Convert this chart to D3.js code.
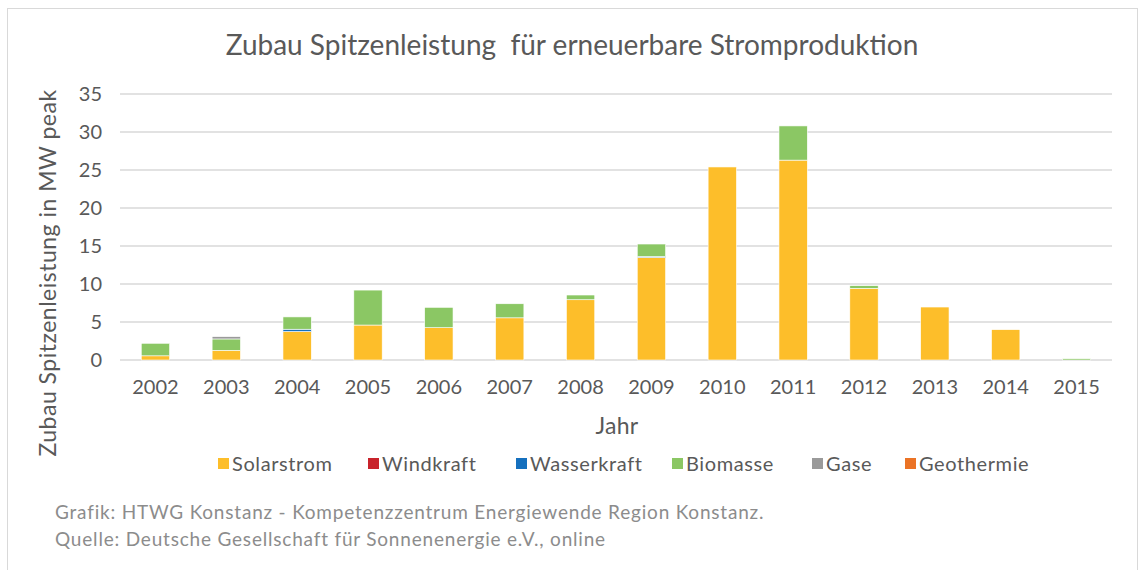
<!DOCTYPE html>
<html>
<head>
<meta charset="utf-8">
<script src="https://cdn.jsdelivr.net/npm/d3@7"></script>
<style>
  body { margin: 0; background: #fff; }
  text { font-family: Lato, "Open Sans", sans-serif; }
</style>
</head>
<body>
<svg id="chart" width="1139" height="570"></svg>
<script>
// data (MW peak)
const years = ['2002','2003','2004','2005','2006','2007','2008','2009','2010','2011','2012','2013','2014','2015'];
const seriesNames = ['Solarstrom','Windkraft','Wasserkraft','Biomasse','Gase','Geothermie'];
const seriesColors = ['#FDBE2A','#C8232B','#1570BE','#8BC764','#9A9A9A','#EB7325'];
const solar    = [0.55, 1.27, 3.75, 4.6, 4.25, 5.55, 7.93, 13.5, 25.4, 26.3, 9.43, 6.97, 3.99, 0];
const wind     = [0, 0, 0, 0, 0, 0, 0, 0, 0, 0, 0, 0, 0, 0];
const water    = [0, 0, 0.3, 0, 0, 0, 0, 0.12, 0, 0, 0, 0, 0, 0];
const biomass  = [1.65, 1.5, 1.62, 4.6, 2.68, 1.85, 0.62, 1.64, 0, 4.5, 0.35, 0, 0, 0.17];
const gas      = [0, 0.3, 0, 0, 0, 0, 0, 0, 0, 0, 0, 0, 0, 0];
const geo      = [0, 0, 0, 0, 0, 0, 0, 0, 0, 0, 0, 0, 0, 0];
const yTicks = [0, 5, 10, 15, 20, 25, 30, 35];

const seriesValues = [solar, wind, water, biomass, gas, geo];
const rows = years.map((y, i) => {
    const r = { year: y };
    seriesNames.forEach((n, k) => { r[n] = seriesValues[k][i]; });
    return r;
});

const svg = d3.select('#chart');
const plot = { left: 120, right: 1112, top: 94, bottom: 360 };
const font = 'Lato, "Open Sans", sans-serif';

// outer frame
svg.append('rect')
    .attr('x', 7.5).attr('y', 8.5)
    .attr('width', 1130).attr('height', 580)
    .attr('fill', 'none').attr('stroke', '#d9d9d9');

const x = d3.scaleBand().domain(years).range([plot.left, plot.right]).paddingInner(0.6).paddingOuter(0.3);
const y = d3.scaleLinear().domain([0, 35]).range([plot.bottom, plot.top]);

// gridlines
svg.append('g').selectAll('line')
    .data(yTicks)
    .enter().append('line')
    .attr('x1', plot.left).attr('x2', plot.right)
    .attr('y1', d => y(d)).attr('y2', d => y(d))
    .attr('stroke', '#d9d9d9').attr('stroke-width', 1.5);

// y axis labels
const yAxis = svg.append('g')
    .attr('transform', `translate(${plot.left},0)`)
    .call(d3.axisLeft(y).tickValues(yTicks).tickSize(0).tickPadding(18));
yAxis.select('.domain').remove();
yAxis.selectAll('text')
    .attr('font-size', 20).attr('fill', '#595959')
    .style('font-family', font);

// x axis labels
const xAxis = svg.append('g')
    .attr('transform', `translate(0,${plot.bottom})`)
    .call(d3.axisBottom(x).tickSize(0).tickPadding(20));
xAxis.select('.domain').remove();
xAxis.selectAll('text')
    .attr('font-size', 20).attr('fill', '#595959')
    .style('font-family', font);

// stacked bars
const stacked = d3.stack().keys(seriesNames)(rows);
svg.append('g').selectAll('g')
    .data(stacked)
    .enter().append('g')
    .attr('fill', (d, i) => seriesColors[i])
    .selectAll('rect')
    .data(d => d.filter(p => p[1] - p[0] > 0))
    .enter().append('rect')
    .attr('x', d => x(d.data.year))
    .attr('width', x.bandwidth())
    .attr('y', d => y(d[1]))
    .attr('height', d => y(d[0]) - y(d[1]))
    .attr('stroke', '#fff').attr('stroke-width', 0.6);

// title
svg.append('text')
    .attr('x', 572).attr('y', 55)
    .attr('text-anchor', 'middle')
    .attr('font-size', 28).attr('fill', '#595959')
    .attr('xml:space', 'preserve')
    .text('Zubau Spitzenleistung  für erneuerbare Stromproduktion');

// axis titles
svg.append('text')
    .attr('x', 617).attr('y', 434)
    .attr('text-anchor', 'middle')
    .attr('font-size', 23).attr('fill', '#595959')
    .attr('letter-spacing', 0.3)
    .text('Jahr');

svg.append('text')
    .attr('transform', 'translate(56,273) rotate(-90)')
    .attr('text-anchor', 'middle')
    .attr('font-size', 23).attr('fill', '#595959')
    .attr('letter-spacing', 0.5)
    .text('Zubau Spitzenleistung in MW peak');

// legend
const legendX = [218, 368, 516, 672, 812, 905];
const legend = svg.append('g').selectAll('g')
    .data(seriesNames)
    .enter().append('g')
    .attr('transform', (d, i) => `translate(${legendX[i]},464)`);
legend.append('rect')
    .attr('x', 0).attr('y', -6)
    .attr('width', 11).attr('height', 11)
    .attr('fill', (d, i) => seriesColors[i]);
legend.append('text')
    .attr('x', 14).attr('y', 7)
    .attr('font-size', 20).attr('fill', '#595959')
    .attr('letter-spacing', 0.6)
    .text(d => d);

// source lines
const notes = ['Grafik: HTWG Konstanz - Kompetenzzentrum Energiewende Region Konstanz.',
               'Quelle: Deutsche Gesellschaft für Sonnenenergie e.V., online'];
svg.append('g').selectAll('text')
    .data(notes)
    .enter().append('text')
    .attr('x', 55).attr('y', (d, i) => 519 + i * 27)
    .attr('font-size', 19).attr('fill', '#8c8c8c')
    .attr('letter-spacing', 0.8)
    .text(d => d);
</script>
</body>
</html>
